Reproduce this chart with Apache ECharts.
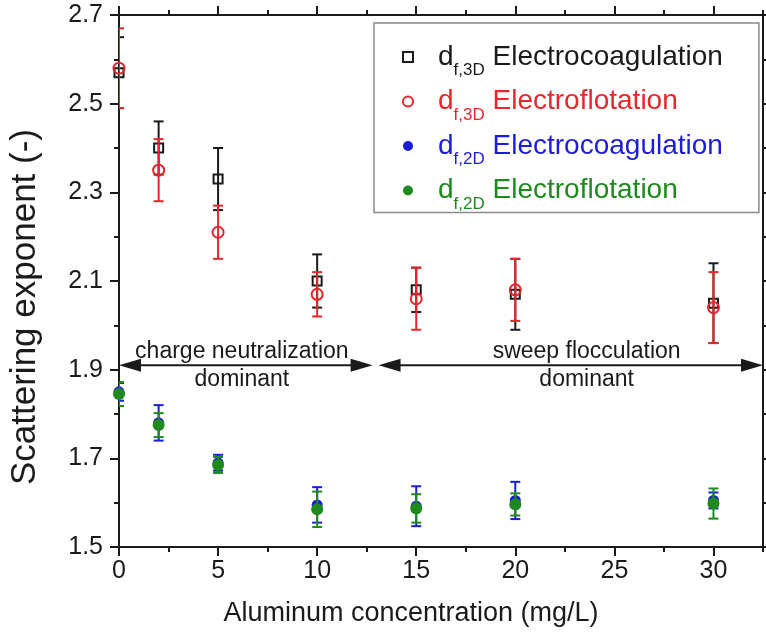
<!DOCTYPE html>
<html>
<head>
<meta charset="utf-8">
<script src="https://cdn.jsdelivr.net/npm/echarts@6/dist/echarts.min.js"></script>
<style>
html,body{margin:0;padding:0;background:#fff;}
#chart{width:766px;height:634px;}
</style>
</head>
<body>
<div id="chart"></div>
<script>
// ---- data ----
const conc = [0, 2, 5, 10, 15, 20, 30];
const df3D_EC = [2.57, 2.40, 2.33, 2.10, 2.08, 2.07, 2.05];
const df3D_EC_err = [0.08, 0.06, 0.07, 0.06, 0.05, 0.08, 0.09];
const df3D_EF = [2.58, 2.35, 2.21, 2.07, 2.06, 2.08, 2.04];
const df3D_EF_err = [0.09, 0.07, 0.06, 0.05, 0.07, 0.07, 0.08];
const df2D_EC = [1.85, 1.78, 1.69, 1.595, 1.592, 1.605, 1.605];
const df2D_EC_err = [0.02, 0.04, 0.018, 0.04, 0.045, 0.042, 0.018];
const df2D_EF = [1.845, 1.775, 1.685, 1.585, 1.587, 1.596, 1.598];
const df2D_EF_err = [0.027, 0.027, 0.018, 0.04, 0.032, 0.025, 0.034];

const seriesNames = ['df3D_EC', 'df3D_EF', 'df2D_EC', 'df2D_EF'];
const legendSubs = ['f,3D', 'f,3D', 'f,2D', 'f,2D'];
const legendMethods = ['Electrocoagulation', 'Electroflotation', 'Electrocoagulation', 'Electroflotation'];

const xMajorTicks = [0, 5, 10, 15, 20, 25, 30];
const xMinorTicks = [2.5, 7.5, 12.5, 17.5, 22.5, 27.5, 32.5];
const yMajorTicks = [1.5, 1.7, 1.9, 2.1, 2.3, 2.5, 2.7];
const yMinorTicks = [1.6, 1.8, 2.0, 2.2, 2.4, 2.6];

const arrowSpans = [[0, 12.8], [13.1, 32.5]];
const arrowY = 1.91;
const annotationX = [6.2, 23.6];
const annotationTexts = ['charge neutralization\ndominant', 'sweep flocculation\ndominant'];

// ---- styles ----
const FONT = '"Liberation Sans", Arial, Helvetica, sans-serif';
const INK = '#1a1a1a';
const colors = ['#1a1a1a', '#e8262b', '#1c1cdc', '#1e8a1e'];
const XMIN = 0, XMAX = 32.5, YMIN = 1.5, YMAX = 2.7;

function errSeries(vals, errs, color, z) {
  return {
    type: 'custom',
    z: z,
    silent: true,
    clip: true,
    encode: { x: 0, y: [1, 2] },
    data: conc.map((c, i) => [c, vals[i], errs[i]]),
    renderItem: function (params, api) {
      const x = api.value(0), y = api.value(1), e = api.value(2);
      const top = api.coord([x, y + e]);
      const bot = api.coord([x, y - e]);
      const hw = 5;
      const st = { stroke: color, lineWidth: 2 };
      return {
        type: 'group',
        children: [
          { type: 'line', shape: { x1: top[0], y1: top[1], x2: bot[0], y2: bot[1] }, style: st },
          { type: 'line', shape: { x1: top[0] - hw, y1: top[1], x2: top[0] + hw, y2: top[1] }, style: st },
          { type: 'line', shape: { x1: bot[0] - hw, y1: bot[1], x2: bot[0] + hw, y2: bot[1] }, style: st }
        ]
      };
    }
  };
}

function pts(vals) { return conc.map((c, i) => [c, vals[i]]); }

const rich = {};
colors.forEach((c, i) => {
  rich['d' + i] = { fontSize: 28, color: c, fontFamily: FONT, lineHeight: 44, padding: [0, 0, 0, 20] };
  rich['s' + i] = { fontSize: 17, color: c, fontFamily: FONT, lineHeight: 17, verticalAlign: 'bottom' };
  rich['n' + i] = { fontSize: 28, color: c, fontFamily: FONT, lineHeight: 44 };
});

function xAxisDef(pos, major) {
  return {
    type: 'value', position: pos, min: XMIN, max: XMAX,
    axisLine: { show: major, onZero: false, lineStyle: { color: INK, width: 2 } },
    axisTick: { show: true, inside: false, length: major ? 9 : 5, customValues: major ? xMajorTicks : xMinorTicks, lineStyle: { color: INK, width: 2 } },
    axisLabel: { show: major && pos === 'bottom', customValues: xMajorTicks, margin: 12, fontSize: 25, color: INK, fontFamily: FONT, formatter: v => String(v) },
    splitLine: { show: false }
  };
}
function yAxisDef(pos, major) {
  return {
    type: 'value', position: pos, min: YMIN, max: YMAX,
    axisLine: { show: major, onZero: false, lineStyle: { color: INK, width: 2 } },
    axisTick: { show: true, inside: false, length: major ? 9 : 5, customValues: major ? yMajorTicks : yMinorTicks, lineStyle: { color: INK, width: 2 } },
    axisLabel: { show: major && pos === 'left', customValues: yMajorTicks, margin: 16, fontSize: 25, color: INK, fontFamily: FONT, formatter: v => v.toFixed(1) },
    splitLine: { show: false }
  };
}

const xAxes = [xAxisDef('bottom', true), xAxisDef('bottom', false), xAxisDef('top', true), xAxisDef('top', false)];
Object.assign(xAxes[0], {
  name: 'Aluminum concentration (mg/L)', nameLocation: 'middle', nameGap: 53,
  nameTextStyle: { fontSize: 27, color: INK, fontFamily: FONT, padding: [0, 60, 0, 0] }
});
const yAxes = [yAxisDef('left', true), yAxisDef('left', false), yAxisDef('right', true), yAxisDef('right', false)];
Object.assign(yAxes[0], {
  name: 'Scattering exponent (-)', nameLocation: 'middle', nameGap: 76,
  nameTextStyle: { fontSize: 35, color: INK, fontFamily: FONT, padding: [0, 52, 0, 0] }
});

const option = {
  animation: false,
  backgroundColor: '#fff',
  textStyle: { fontFamily: FONT },
  grid: { left: 118, right: 3, top: 15, bottom: 87, containLabel: false },
  xAxis: xAxes,
  yAxis: yAxes,
  legend: {
    data: seriesNames,
    orient: 'vertical',
    left: 374, top: 23,
    padding: [20, 36, 0, 28],
    itemGap: 8.5,
    itemWidth: 10, itemHeight: 10,
    borderColor: '#8a8a8a', borderWidth: 1.5,
    backgroundColor: '#fff',
    selectedMode: false,
    formatter: function (name) {
      const i = seriesNames.indexOf(name);
      return '{d' + i + '|d}{s' + i + '|' + legendSubs[i] + '}{n' + i + '| ' + legendMethods[i] + '}';
    },
    textStyle: { rich: rich }
  },
  series: [
    // annotations: arrows + text
    {
      type: 'custom', z: 1, silent: true, clip: false,
      encode: { x: [0, 1, 3], y: 2 },
      data: arrowSpans.map((s, i) => [s[0], s[1], arrowY, annotationX[i]]),
      renderItem: function (params, api) {
        const i = params.dataIndex;
        const p0 = api.coord([api.value(0), api.value(2)]);
        const p1 = api.coord([api.value(1), api.value(2)]);
        const pt = api.coord([api.value(3), api.value(2)]);
        const L = 22, H = 6.5;
        return {
          type: 'group',
          children: [
            { type: 'line', shape: { x1: p0[0] + L - 2, y1: p0[1], x2: p1[0] - L + 2, y2: p1[1] }, style: { stroke: INK, lineWidth: 2 } },
            { type: 'polygon', shape: { points: [[p0[0], p0[1]], [p0[0] + L, p0[1] - H], [p0[0] + L, p0[1] + H]] }, style: { fill: INK } },
            { type: 'polygon', shape: { points: [[p1[0], p1[1]], [p1[0] - L, p1[1] - H], [p1[0] - L, p1[1] + H]] }, style: { fill: INK } },
            { type: 'text', x: pt[0], y: pt[1], style: { text: annotationTexts[i], fill: INK, fontSize: 23, fontFamily: FONT, align: 'center', verticalAlign: 'middle', lineHeight: 28 } }
          ]
        };
      }
    },
    errSeries(df3D_EC, df3D_EC_err, colors[0], 2),
    {
      name: seriesNames[0], type: 'scatter', z: 3, symbol: 'rect', symbolSize: 9,
      itemStyle: { color: 'rgba(255,255,255,0)', borderColor: colors[0], borderWidth: 2, opacity: 1 },
      data: pts(df3D_EC)
    },
    errSeries(df3D_EF, df3D_EF_err, colors[1], 4),
    {
      name: seriesNames[1], type: 'scatter', z: 5, symbol: 'circle', symbolSize: 11,
      itemStyle: { color: 'rgba(255,255,255,0)', borderColor: colors[1], borderWidth: 2, opacity: 1 },
      data: pts(df3D_EF)
    },
    errSeries(df2D_EC, df2D_EC_err, colors[2], 6),
    {
      name: seriesNames[2], type: 'scatter', z: 7, symbol: 'circle', symbolSize: 11,
      itemStyle: { color: colors[2], opacity: 1 },
      data: pts(df2D_EC)
    },
    errSeries(df2D_EF, df2D_EF_err, colors[3], 8),
    {
      name: seriesNames[3], type: 'scatter', z: 9, symbol: 'circle', symbolSize: 12,
      itemStyle: { color: colors[3], opacity: 1 },
      data: pts(df2D_EF)
    }
  ]
};

const chart = echarts.init(document.getElementById('chart'), null, { renderer: 'canvas' });
chart.setOption(option);
</script>
</body>
</html>
